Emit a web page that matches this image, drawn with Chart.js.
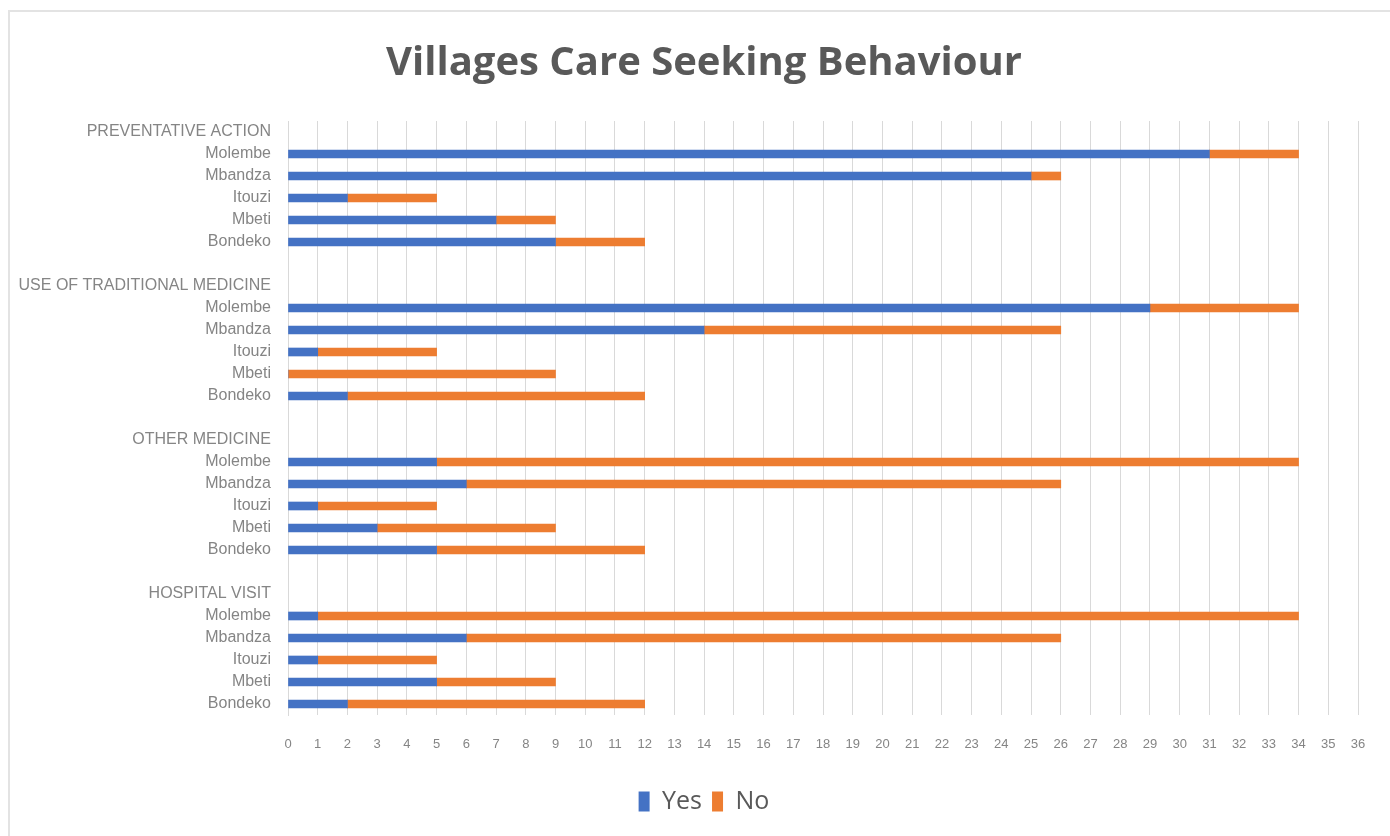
<!DOCTYPE html>
<html>
<head>
<meta charset="utf-8">
<script src="https://cdn.jsdelivr.net/npm/chart.js@4"></script>
<style>
  html, body { margin: 0; padding: 0; background: #fff; }
  #wrap { position: relative; width: 1390px; height: 836px; }
  #frame { position: absolute; left: 8px; top: 10px; right: -2px; bottom: -2px;
           border-top: 2px solid #e3e3e3; border-left: 2px solid #e3e3e3; }
  canvas { position: absolute; left: 0; top: 0; }
</style>
</head>
<body>
<div id="wrap">
  <div id="frame"></div>
  <canvas id="chart" width="1390" height="836"></canvas>
</div>
<script>
// rows top to bottom: group header, five villages, blank spacer
var villages = ['Molembe', 'Mbandza', 'Itouzi', 'Mbeti', 'Bondeko'];
var groups = ['PREVENTATIVE ACTION', 'USE OF TRADITIONAL MEDICINE', 'OTHER MEDICINE', 'HOSPITAL VISIT'];

// yes / no per village, same order as villages
var preventiveYes = [31, 25, 2, 7, 9];
var preventiveNo = [3, 1, 3, 2, 3];
var traditionalYes = [29, 14, 1, 0, 2];
var traditionalNo = [5, 12, 4, 9, 10];
var otherYes = [5, 6, 1, 3, 5];
var otherNo = [29, 20, 4, 6, 7];
var hospitalYes = [1, 6, 1, 5, 2];
var hospitalNo = [33, 20, 4, 4, 10];

var yesSets = [preventiveYes, traditionalYes, otherYes, hospitalYes];
var noSets = [preventiveNo, traditionalNo, otherNo, hospitalNo];

var labels = [];
var yes = [];
var no = [];
for (var g = 0; g < groups.length; g++) {
    labels.push(groups[g]);
    yes.push(null);
    no.push(null);
    for (var v = 0; v < villages.length; v++) {
        labels.push(villages[v]);
        yes.push(yesSets[g][v]);
        no.push(noSets[g][v]);
    }
    if (g < groups.length - 1) {
        labels.push('');
        yes.push(null);
        no.push(null);
    }
}

var gray = '#595959';
var gridColor = '#d9d9d9';

// the long category labels run past the left padding, so widen the label clip box
var unclipLabels = {
    id: 'unclipLabels',
    afterLayout: function (chart) {
        chart.scales.y.left = 0;
    }
};

new Chart(document.getElementById('chart'), {
    type: 'bar',
    data: {
        labels: labels,
        datasets: [
            { label: 'Yes', data: yes, backgroundColor: '#4472c4', barThickness: 8 },
            { label: 'No', data: no, backgroundColor: '#ed7d31', barThickness: 8 }
        ]
    },
    plugins: [unclipLabels],
    options: {
        indexAxis: 'y',
        responsive: false,
        animation: false,
        layout: { padding: { left: 50, right: 32, top: 40, bottom: 12 } },
        plugins: {
            title: {
                display: true,
                text: 'Villages Care Seeking Behaviour',
                color: gray,
                font: { family: 'Open Sans', size: 40, weight: 'bold' },
                padding: { top: 0, bottom: 33 }
            },
            legend: {
                position: 'bottom',
                labels: {
                    color: gray,
                    font: { family: 'Open Sans', size: 25 },
                    boxWidth: 11,
                    boxHeight: 20,
                    padding: 10
                }
            },
            tooltip: { enabled: false }
        },
        scales: {
            x: {
                stacked: true,
                min: 0,
                max: 36,
                ticks: {
                    stepSize: 1,
                    autoSkip: false,
                    maxRotation: 0,
                    color: '#858585',
                    font: { family: 'Liberation Sans', size: 13 },
                    padding: 22
                },
                grid: { color: gridColor, lineWidth: 1, drawTicks: false },
                border: { display: false },
                afterFit: function (scale) { scale.height = 64; }
            },
            y: {
                stacked: true,
                ticks: {
                    autoSkip: false,
                    color: '#858585',
                    font: { family: 'Liberation Sans', size: 16 },
                    padding: 17
                },
                grid: { display: false, drawTicks: false },
                border: { display: true, color: gridColor },
                afterFit: function (scale) { scale.width = 238; }
            }
        }
    }
});
</script>
</body>
</html>
